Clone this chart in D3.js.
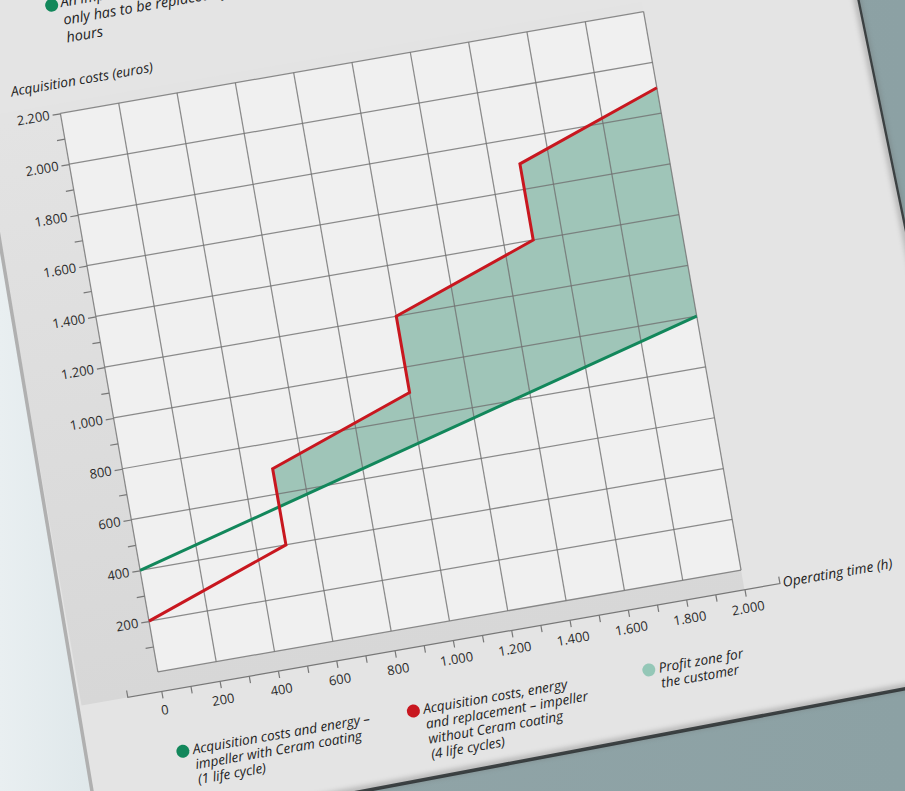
<!DOCTYPE html>
<html>
<head>
<meta charset="utf-8">
<script src="https://cdn.jsdelivr.net/npm/d3@7"></script>
<style>
  html, body { margin: 0; padding: 0; background: #e4e4e4; }
  svg { display: block; }
</style>
</head>
<body>
<svg id="chart"></svg>
<script>
// values
const hoursRed = [0, 500, 500, 1000, 1000, 1500, 1500, 2000]
const costsRed = [200, 400, 700, 900, 1200, 1400, 1700, 1900]   // without Ceram coating, 4 life cycles
const hoursGreen = [0, 2000]
const costsGreen = [400, 1000]                                   // with Ceram coating, 1 life cycle
const xTicks = d3.range(0, 2001, 100)
const yTicks = d3.range(100, 2201, 100)
const xGrid = d3.range(0, 2001, 200)
const yGrid = d3.range(0, 2201, 200)

const legendLabels = [
  ["Acquisition costs and energy –", "impeller with Ceram coating", "(1 life cycle)"],
  ["Acquisition costs, energy", "and replacement – impeller", "without Ceram coating", "(4 life cycles)"],
  ["Profit zone for", "the customer"]
]
const noteLines = ["An impeller with Ceram coating", "only has to be replaced after 2.000 operating", "hours"]

const red = "#c8171f", green = "#12875b", zone = "#9fc5b8", zoneDot = "#94c7b7"
const legendColors = [green, red, zoneDot]
const legendX = [51, 285, 524]

const W = 905, H = 791
const svg = d3.select("#chart").attr("width", W).attr("height", H)
const font = "'Open Sans', 'Noto Sans', sans-serif"

const de = d3.formatLocale({decimal: ",", thousands: ".", grouping: [3], currency: ["", "€"]})
const fmt = de.format(",")

// chart is drawn flat, then turned with the sheet
const angle = -9.9
const x = d3.scaleLinear().domain([0, 2000]).range([40, 632])
const y = d3.scaleLinear().domain([0, 2200]).range([689, 122])
const axisY = 709

// ---- background, sheet of paper ----
const defs = svg.append("defs")
const bg = defs.append("linearGradient").attr("id", "bg")
bg.append("stop").attr("offset", 0).attr("stop-color", "#e9eff1")
bg.append("stop").attr("offset", 0.12).attr("stop-color", "#dde6e9")
bg.append("stop").attr("offset", 0.36).attr("stop-color", "#90a4a7")
bg.append("stop").attr("offset", 1).attr("stop-color", "#8ca1a4")
defs.append("filter").attr("id", "soft").attr("x", -0.1).attr("y", -0.1).attr("width", 1.2).attr("height", 1.2)
  .append("feGaussianBlur").attr("stdDeviation", 2.5)
const band = defs.append("linearGradient").attr("id", "band")
  .attr("gradientUnits", "userSpaceOnUse")
  .attr("x1", 0).attr("x2", 0).attr("y1", y(2200)).attr("y2", axisY)
band.append("stop").attr("offset", 0).attr("stop-color", "#e3e3e3")
band.append("stop").attr("offset", 1).attr("stop-color", "#d7d7d7")

const paper = [[-49, -50], [847, -50], [995, 670], [100, 839]]

svg.append("rect").attr("width", W).attr("height", H).attr("fill", "url(#bg)")
svg.append("polygon")
  .attr("points", paper.map(p => [p[0] + 3, p[1] + 3]).join(" "))
  .attr("fill", "#2c3335")
svg.append("polygon").attr("points", paper.join(" ")).attr("fill", "#e4e4e4")

svg.append("g").attr("transform", `rotate(${angle})`)
  .append("rect")
    .attr("x", -41).attr("y", y(2200) - 10)
    .attr("width", x(2000) + 41).attr("height", axisY - y(2200) + 10)
    .attr("fill", "url(#band)")

svg.append("polyline")
  .attr("points", paper.slice(1).join(" "))
  .attr("fill", "none").attr("stroke", "#666").attr("stroke-width", 7)
  .attr("opacity", 0.35).attr("filter", "url(#soft)")
svg.append("line")
  .attr("x1", paper[0][0]).attr("y1", paper[0][1]).attr("x2", paper[3][0]).attr("y2", paper[3][1])
  .attr("stroke", "#b0b0b0").attr("stroke-width", 3.5)

const g = svg.append("g").attr("transform", `rotate(${angle})`)

// plot background
g.append("rect")
  .attr("x", x(0)).attr("y", y(2200))
  .attr("width", x(2000) - x(0)).attr("height", y(0) - y(2200))
  .attr("fill", "#f0f0f0")

// profit zone: between red and green where red is higher
const greenAt = d3.scaleLinear().domain(hoursGreen).range(costsGreen)
const pts = hoursRed.map((h, i) => ({h: h, lo: greenAt(h), hi: Math.max(costsRed[i], greenAt(h))}))
g.append("path")
  .datum(pts)
  .attr("fill", zone)
  .attr("d", d3.area().x(d => x(d.h)).y0(d => y(d.lo)).y1(d => y(d.hi)))

// grid
g.append("g").selectAll("line").data(xGrid).join("line")
  .attr("x1", d => x(d)).attr("x2", d => x(d))
  .attr("y1", y(0)).attr("y2", y(2200))
  .attr("stroke", "#707070").attr("stroke-opacity", 0.8).attr("stroke-width", 1.25)
g.append("g").selectAll("line").data(yGrid).join("line")
  .attr("y1", d => y(d)).attr("y2", d => y(d))
  .attr("x1", x(0)).attr("x2", x(2000))
  .attr("stroke", "#707070").attr("stroke-opacity", 0.8).attr("stroke-width", 1.25)

// y axis
const yAxis = g.append("g")
  .attr("transform", `translate(${x(0)},0)`)
  .call(d3.axisLeft(y).tickValues(yTicks).tickSize(8).tickPadding(3)
    .tickFormat(d => d % 200 === 0 ? fmt(d) : ""))
yAxis.select(".domain").remove()
yAxis.selectAll("line").attr("stroke", "#777").attr("stroke-width", 1.2)
yAxis.selectAll("text").attr("font-family", font).attr("font-size", 13).attr("fill", "#2b2b2b")

// x axis, offset below the grid
const xAxis = g.append("g")
  .attr("transform", `translate(0,${axisY})`)
  .call(d3.axisBottom(x).tickValues(xTicks).tickSize(7).tickPadding(7)
    .tickFormat(d => d % 200 === 0 ? fmt(d) : ""))
xAxis.select(".domain").remove()
xAxis.selectAll("line").attr("stroke", "#777").attr("stroke-width", 1.2)
xAxis.selectAll("text").attr("font-family", font).attr("font-size", 13).attr("fill", "#2b2b2b")
const axL = x.range()[0] - 34, axR = x.range()[1] + 36
xAxis.append("path")
  .attr("d", `M${axL},-7V0H${axR}V-7`)
  .attr("fill", "none").attr("stroke", "#777").attr("stroke-width", 1.2)

g.append("text")
  .attr("x", axR + 3).attr("y", axisY + 4)
  .attr("font-family", font).attr("font-style", "italic").attr("font-size", 13.8).attr("fill", "#222")
  .text("Operating time (h)")
g.append("text")
  .attr("x", -5).attr("y", 97)
  .attr("font-family", font).attr("font-style", "italic").attr("font-size", 13.6).attr("fill", "#222")
  .text("Acquisition costs (euros)")

// lines
const line = d3.line().x(d => x(d[0])).y(d => y(d[1]))
g.append("path")
  .datum(d3.zip(hoursGreen, costsGreen))
  .attr("fill", "none").attr("stroke", green).attr("stroke-width", 3)
  .attr("d", line)
g.append("path")
  .datum(d3.zip(hoursRed, costsRed))
  .attr("fill", "none").attr("stroke", red).attr("stroke-width", 3)
  .attr("stroke-linejoin", "miter")
  .attr("d", line)

// legend
const legendY = 771.5
const items = g.append("g").selectAll("g").data(legendLabels).join("g")
  .attr("transform", (d, i) => `translate(${legendX[i]},${legendY})`)
items.append("circle").attr("r", 6.5).attr("fill", (d, i) => legendColors[i])
items.append("text")
  .attr("font-family", font).attr("font-style", "italic").attr("font-size", 13.6).attr("fill", "#222")
  .selectAll("tspan").data(d => d).join("tspan")
    .attr("x", 10).attr("y", (d, i) => 4.5 + i * 15.3)
    .text(d => d)

// note at the top of the sheet
const note = g.append("g").attr("transform", "translate(50,14)")
note.append("circle").attr("r", 6.5).attr("fill", green)
note.append("text")
  .attr("font-family", font).attr("font-style", "italic").attr("font-size", 14.5).attr("fill", "#222")
  .selectAll("tspan").data(noteLines).join("tspan")
    .attr("x", 9).attr("y", (d, i) => 3.5 + i * 18)
    .text(d => d)
</script>
</body>
</html>
